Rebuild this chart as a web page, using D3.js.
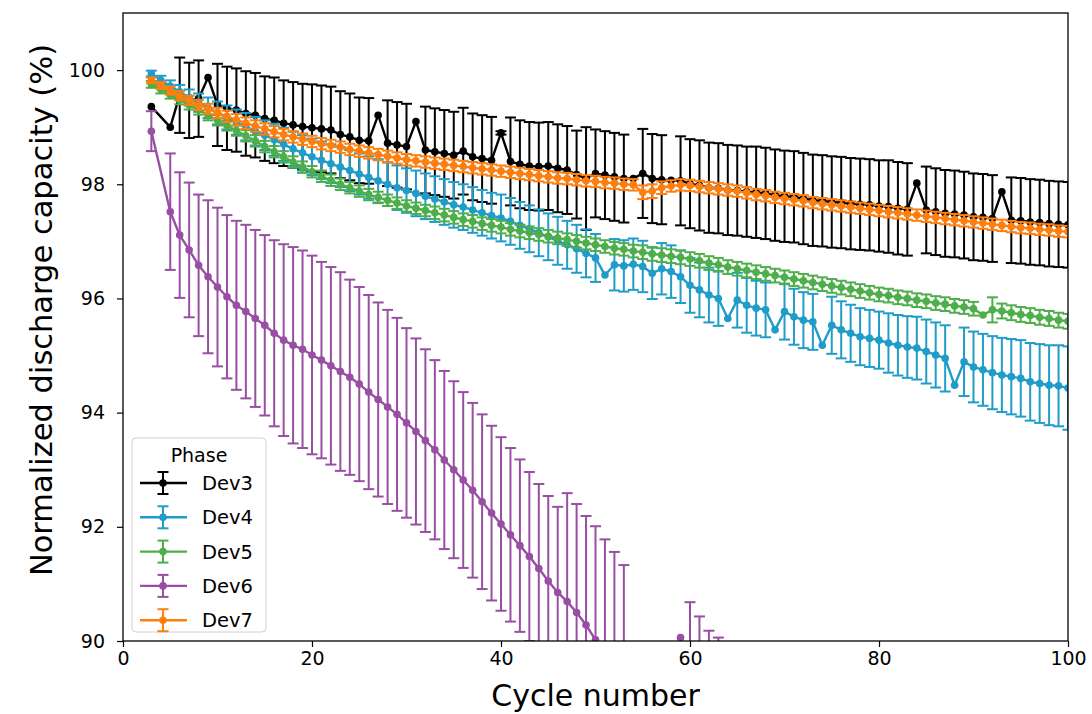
<!DOCTYPE html>
<html>
<head>
<meta charset="utf-8">
<script src="https://cdn.jsdelivr.net/npm/d3@7"></script>
<style>
  body { margin: 0; background: #fff; }
  text { font-family: "DejaVu Sans", sans-serif; }
</style>
</head>
<body>
<div id="container"></div>
<script>
const W = 1092, H = 714
const M = {left: 123, right: 24, top: 13, bottom: 73}

// cycle numbers (x)
const cycles = [3,4,5,6,7,8,9,10,11,12,13,14,15,16,17,18,19,20,21,22,23,24,25,26,27,28,29,30,
  31,32,33,34,35,36,37,38,39,40,41,42,43,44,45,46,47,48,49,50,51,52,53,54,55,56,57,58,59,60,
  61,62,63,64,65,66,67,68,69,70,71,72,73,74,75,76,77,78,79,80,81,82,83,84,85,86,87,88,89,90,
  91,92,93,94,95,96,97,98,99,100]

const phases = ['Dev3', 'Dev4', 'Dev5', 'Dev6', 'Dev7']
const colors = ['#000000', '#1f9cc8', '#4dae4a', '#984ea3', '#ff7f0e']

// mean normalized capacity (%), cycles 3..100, null = no data
const dev3 = [99.36,null,99.00,99.56,99.47,99.50,99.87,99.39,99.33,99.30,99.24,99.21,99.15,99.12,99.07,99.04,99.01,98.99,98.97,98.95,
  98.87,98.83,98.77,98.76,99.21,98.72,98.69,98.66,99.10,98.60,98.57,98.54,98.51,98.58,98.48,98.45,98.42,98.90,98.40,98.35,
  98.32,98.31,98.32,98.28,98.25,98.17,98.10,98.19,98.16,98.13,98.10,98.10,98.19,98.10,98.08,98.07,98.06,98.01,97.98,97.94,
  97.93,97.90,97.89,97.87,97.86,97.84,97.81,97.79,97.78,97.75,97.72,97.71,97.69,97.68,97.66,97.65,97.64,97.62,97.61,97.58,
  97.56,98.02,97.55,97.52,97.49,97.48,97.46,97.43,97.42,97.40,97.87,97.37,97.36,97.34,97.33,97.31,97.30,97.29]
const dev3Err = [0,null,0,0.66,0.66,0.67,0,0.72,0.73,0.73,0.74,0.74,0.74,0.75,0.75,0.75,0.75,0.76,0.76,0.76,
  0.76,0.76,0.75,0.75,0,0.75,0.75,0.75,0,0.76,0.76,0.76,0.76,0.76,0.76,0.76,0.76,0.03,0.77,0.77,
  0.77,0.77,0.77,0.77,0.77,0.77,0.90,0.77,0.77,0.77,0.77,0,0.78,0.78,0.78,0,0.78,0.78,0.79,0.79,
  0.79,0.79,0.79,0.79,0.80,0.80,0.80,0.80,0.80,0.80,0.80,0.80,0.80,0.80,0.80,0.80,0.80,0.80,0.81,0.81,
  0.81,0,0.76,0.76,0.76,0.76,0.76,0.76,0.76,0.76,0,0.75,0.75,0.75,0.75,0.75,0.75,0.75]

const dev4 = [99.94,99.82,99.72,99.62,99.52,99.43,99.34,99.25,99.17,99.09,99.01,98.93,98.86,98.78,98.70,98.62,98.55,98.48,98.42,98.36,
  98.30,98.24,98.18,98.12,98.06,98.00,97.94,97.89,97.84,97.79,97.74,97.69,97.64,97.60,97.55,97.50,97.45,97.41,97.35,97.28,
  97.22,97.15,97.08,97.01,96.94,96.87,96.79,96.71,96.41,96.59,96.57,96.60,96.56,96.44,96.52,96.47,96.38,96.23,96.15,96.06,
  96.00,95.65,95.97,95.88,95.83,95.80,95.45,95.77,95.68,95.62,95.59,95.18,95.53,95.45,95.39,95.33,95.30,95.27,95.22,95.18,
  95.15,95.13,95.07,95.01,94.95,94.48,94.89,94.80,94.75,94.70,94.66,94.63,94.60,94.54,94.51,94.48,94.47,94.43]
const dev4Err = [0.05,0.08,0.10,0.12,0.14,0.16,0.18,0.20,0.21,0.22,0.24,0.25,0.26,0.28,0.29,0.30,0.31,0.32,0.33,0.34,
  0.35,0.36,0.36,0.37,0.38,0.38,0.39,0.39,0.40,0.40,0.40,0.40,0.40,0.40,0.40,0.40,0.40,0.41,0.41,0.41,
  0.41,0.41,0.41,0.42,0.42,0.42,0.42,0.42,0,0.45,0.45,0.45,0.45,0.45,0.45,0.46,0.46,0.48,0.48,0.48,
  0.48,0,0.48,0.48,0.48,0.48,0,0.49,0.49,0.49,0.49,0,0.50,0.50,0.50,0.50,0.50,0.50,0.52,0.53,
  0.54,0.55,0.56,0.57,0.58,0,0.60,0.62,0.63,0.64,0.65,0.66,0.67,0.68,0.69,0.70,0.71,0.73]

const dev5 = [99.75,99.66,99.57,99.48,99.39,99.30,99.21,99.12,99.03,98.94,98.85,98.76,98.66,98.57,98.48,98.39,98.30,98.22,98.14,98.07,
  98.00,97.94,97.88,97.82,97.77,97.72,97.67,97.62,97.58,97.54,97.50,97.46,97.42,97.38,97.35,97.31,97.28,97.25,97.21,97.18,
  97.15,97.12,97.09,97.06,97.03,97.00,96.97,96.94,96.91,96.88,96.86,96.83,96.81,96.78,96.76,96.74,96.72,96.69,96.66,96.62,
  96.59,96.55,96.52,96.49,96.46,96.43,96.40,96.37,96.34,96.31,96.28,96.25,96.22,96.19,96.16,96.13,96.10,96.07,96.05,96.02,
  96.00,95.97,95.95,95.92,95.90,95.87,95.85,95.82,95.71,95.80,95.78,95.75,95.72,95.70,95.67,95.65,95.62,95.60]
const dev5Err = [0.06,0.07,0.07,0.08,0.08,0.08,0.09,0.09,0.09,0.09,0.10,0.10,0.10,0.10,0.10,0.10,0.10,0.10,0.10,0.10,
  0.10,0.10,0.10,0.10,0.10,0.10,0.10,0.10,0.10,0.10,0.11,0.11,0.11,0.11,0.11,0.11,0.11,0.11,0.11,0.11,
  0.11,0.11,0.11,0.11,0.11,0.11,0.11,0.11,0.11,0.11,0.11,0.11,0.12,0.12,0.12,0.12,0.12,0.12,0.12,0.12,
  0.12,0.12,0.12,0.12,0.12,0.12,0.12,0.12,0.12,0.12,0.12,0.12,0.12,0.12,0.12,0.12,0.12,0.12,0.12,0.12,
  0.12,0.12,0.12,0.12,0.12,0.12,0.12,0.12,0,0.22,0.13,0.13,0.13,0.13,0.13,0.13,0.13,0.13]

const dev6 = [98.93,null,97.52,97.11,96.85,96.58,96.38,96.20,96.03,95.88,95.77,95.65,95.53,95.39,95.27,95.18,95.11,95.01,94.92,94.82,
  94.72,94.62,94.50,94.36,94.23,94.10,93.97,93.82,93.67,93.51,93.35,93.17,93.00,92.82,92.64,92.44,92.24,92.05,91.86,91.67,
  91.48,91.27,91.05,90.85,90.69,90.50,90.28,90.02,89.78,89.56,89.33,88.90,88.60,88.30,88.00,87.70,90.06,88.90,88.70,88.50,
  88.30,88.00,87.80,null,null,null,null,null,null,null,null,null,null,null,null,null,null,null,null,null,
  null,null,null,null,null,null,null,null,null,null,null,null,null,null,null,null,null,null]
const dev6Err = [0.35,null,1.02,1.10,1.18,1.24,1.34,1.39,1.43,1.48,1.52,1.55,1.58,1.63,1.68,1.72,1.73,1.74,1.72,1.73,
  1.74,1.71,1.70,1.70,1.70,1.70,1.69,1.66,1.63,1.60,1.57,1.56,1.55,1.54,1.53,1.53,1.53,1.52,1.52,1.51,
  1.48,1.48,1.49,1.50,1.90,1.90,1.91,1.99,2.00,2.00,2.00,1.00,1.00,1.00,1.00,1.00,0,1.78,1.73,1.68,
  1.76,1.50,1.50,null,null,null,null,null,null,null,null,null,null,null,null,null,null,null,null,null,
  null,null,null,null,null,null,null,null,null,null,null,null,null,null,null,null,null,null]

const dev7 = [99.82,99.73,99.64,99.55,99.47,99.39,99.32,99.25,99.19,99.13,99.07,99.02,98.97,98.92,98.87,98.83,98.79,98.75,98.71,98.68,
  98.65,98.61,98.58,98.55,98.52,98.49,98.46,98.43,98.41,98.39,98.37,98.35,98.33,98.31,98.29,98.27,98.25,98.23,98.21,98.19,
  98.17,98.15,98.13,98.11,98.10,98.08,98.06,98.05,98.03,98.02,98.00,97.99,97.86,97.88,97.94,97.97,97.99,97.98,97.96,97.94,
  97.92,97.90,97.88,97.85,97.82,97.80,97.77,97.75,97.73,97.71,97.68,97.66,97.64,97.62,97.60,97.58,97.56,97.54,97.52,97.50,
  97.48,97.46,97.44,97.42,97.40,97.38,97.36,97.34,97.32,97.30,97.28,97.26,97.24,97.23,97.21,97.20,97.18,97.17]
const dev7Err = [0.05,0.06,0.07,0.08,0.08,0.09,0.09,0.09,0.10,0.10,0.10,0.10,0.10,0.10,0.10,0.10,0.10,0.10,0.10,0.10,
  0.10,0.10,0.10,0.10,0.10,0.10,0.10,0.10,0.10,0.10,0.10,0.10,0.10,0.10,0.10,0.10,0.10,0.10,0.10,0.10,
  0.10,0.10,0.10,0.10,0.10,0.10,0.10,0.10,0.10,0.10,0.10,0.10,0.12,0.12,0.11,0.10,0.10,0.10,0.10,0.10,
  0.10,0.10,0.10,0.10,0.10,0.10,0.10,0.10,0.10,0.10,0.10,0.10,0.10,0.10,0.10,0.10,0.10,0.10,0.10,0.10,
  0.10,0.10,0.10,0.10,0.10,0.10,0.10,0.10,0.10,0.10,0.10,0.10,0.10,0.10,0.10,0.10,0.10,0.10]

const means = [dev3, dev4, dev5, dev6, dev7]
const errs = [dev3Err, dev4Err, dev5Err, dev6Err, dev7Err]

const xTicks = [0, 20, 40, 60, 80, 100]
const yTicks = [90, 92, 94, 96, 98, 100]

const svg = d3.select('#container').append('svg')
    .attr('width', W)
    .attr('height', H)

const x = d3.scaleLinear().domain([0, 100]).range([M.left, W - M.right])
const y = d3.scaleLinear().domain([90, 101]).range([H - M.bottom, M.top])

svg.append('clipPath').attr('id', 'plotclip')
  .append('rect')
    .attr('x', M.left).attr('y', M.top)
    .attr('width', W - M.left - M.right)
    .attr('height', H - M.top - M.bottom)

const plot = svg.append('g').attr('clip-path', 'url(#plotclip)')
const CAP = 5.5

phases.forEach(function(name, k) {
    var pts = cycles.map(function(c, i) {
        return {c: c, v: means[k][i], e: errs[k][i]}
    }).filter(function(d) { return d.v !== null })
    var g = plot.append('g').attr('class', name)
    var col = colors[k]

    var bars = pts.filter(function(d) { return d.e > 0 })
    g.selectAll('line.bar').data(bars).join('line')
        .attr('class', 'bar')
        .attr('x1', d => x(d.c)).attr('x2', d => x(d.c))
        .attr('y1', d => y(d.v - d.e)).attr('y2', d => y(d.v + d.e))
        .attr('stroke', col).attr('stroke-width', 2)
    g.selectAll('line.capt').data(bars).join('line')
        .attr('class', 'capt')
        .attr('x1', d => x(d.c) - CAP).attr('x2', d => x(d.c) + CAP)
        .attr('y1', d => y(d.v + d.e)).attr('y2', d => y(d.v + d.e))
        .attr('stroke', col).attr('stroke-width', 2)
    g.selectAll('line.capb').data(bars).join('line')
        .attr('class', 'capb')
        .attr('x1', d => x(d.c) - CAP).attr('x2', d => x(d.c) + CAP)
        .attr('y1', d => y(d.v - d.e)).attr('y2', d => y(d.v - d.e))
        .attr('stroke', col).attr('stroke-width', 2)

    var line = d3.line().x(d => x(d.c)).y(d => y(d.v))
    g.append('path').datum(pts)
        .attr('d', line)
        .attr('fill', 'none')
        .attr('stroke', col)
        .attr('stroke-width', 2.4)
        .attr('stroke-linejoin', 'round')
    g.selectAll('circle').data(pts).join('circle')
        .attr('cx', d => x(d.c)).attr('cy', d => y(d.v))
        .attr('r', 3.8)
        .attr('fill', col)
})

// axes
const xAxis = svg.append('g')
    .attr('transform', 'translate(0,' + (H - M.bottom) + ')')
    .call(d3.axisBottom(x).tickValues(xTicks).tickSize(6).tickPadding(5).tickSizeOuter(0))
const yAxis = svg.append('g')
    .attr('transform', 'translate(' + M.left + ',0)')
    .call(d3.axisLeft(y).tickValues(yTicks).tickSize(6).tickPadding(12).tickSizeOuter(0))
;[xAxis, yAxis].forEach(function(a) {
    a.select('.domain').remove()
    a.selectAll('text').attr('font-size', 19).attr('fill', '#000')
        .style('font-family', '"DejaVu Sans", sans-serif')
    a.selectAll('line').attr('stroke', '#000').attr('stroke-width', 1.2)
})

svg.append('rect')
    .attr('x', M.left).attr('y', M.top)
    .attr('width', W - M.left - M.right)
    .attr('height', H - M.top - M.bottom)
    .attr('fill', 'none')
    .attr('stroke', '#000')
    .attr('stroke-width', 1.3)

svg.append('text')
    .attr('x', (M.left + W - M.right) / 2)
    .attr('y', 706)
    .attr('text-anchor', 'middle')
    .attr('font-size', 30)
    .text('Cycle number')

svg.append('text')
    .attr('transform', 'translate(52,310) rotate(-90)')
    .attr('text-anchor', 'middle')
    .attr('font-size', 30.5)
    .text('Normalized discharge capacity (%)')

// legend
const lg = svg.append('g').attr('transform', 'translate(132,438)')
lg.append('rect')
    .attr('width', 134).attr('height', 194)
    .attr('rx', 4)
    .attr('fill', '#fff').attr('fill-opacity', 0.85)
    .attr('stroke', '#d0d0d0').attr('stroke-width', 1)
lg.append('text')
    .attr('x', 67).attr('y', 24)
    .attr('text-anchor', 'middle')
    .attr('font-size', 19)
    .text('Phase')
phases.forEach(function(name, k) {
    var ry = 45 + k * 34.3
    var row = lg.append('g').attr('transform', 'translate(0,' + ry + ')')
    row.append('line').attr('x1', 8).attr('x2', 55).attr('y1', 0).attr('y2', 0)
        .attr('stroke', colors[k]).attr('stroke-width', 2.4)
    row.append('line').attr('x1', 31).attr('x2', 31).attr('y1', -11).attr('y2', 11)
        .attr('stroke', colors[k]).attr('stroke-width', 2)
    row.append('line').attr('x1', 31 - CAP).attr('x2', 31 + CAP).attr('y1', -11).attr('y2', -11)
        .attr('stroke', colors[k]).attr('stroke-width', 2)
    row.append('line').attr('x1', 31 - CAP).attr('x2', 31 + CAP).attr('y1', 11).attr('y2', 11)
        .attr('stroke', colors[k]).attr('stroke-width', 2)
    row.append('circle').attr('cx', 31).attr('cy', 0).attr('r', 3.8).attr('fill', colors[k])
    row.append('text').attr('x', 70).attr('y', 7)
        .attr('font-size', 19.5)
        .text(name)
})
</script>
</body>
</html>
